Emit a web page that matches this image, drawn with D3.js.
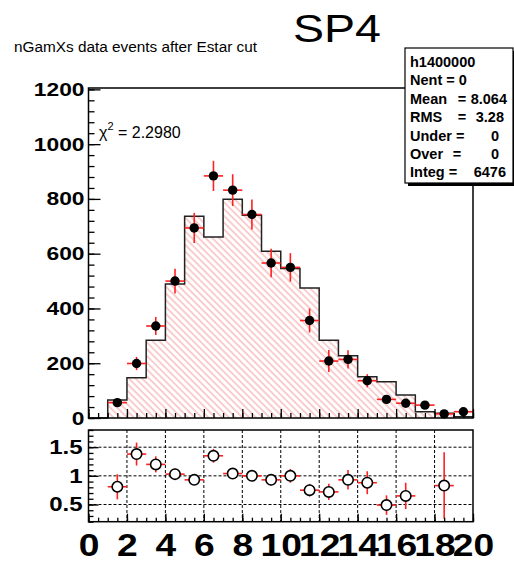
<!DOCTYPE html>
<html>
<head>
<meta charset="utf-8">
<script src="https://cdn.jsdelivr.net/npm/d3@7"></script>
<style>
  body { margin: 0; background: #fff; }
  svg { display: block; font-family: "Liberation Sans", Arial, sans-serif; }
</style>
</head>
<body>
<svg width="514" height="561"></svg>
<script>
// bin low edges (unit bins from 0 to 20)
const binLow   = [0, 1, 2, 3, 4, 5, 6, 7, 8, 9, 10, 11, 12, 13, 14, 15, 16, 17, 18, 19];
// MC histogram (hatched), data points, data errors
const mcCounts = [0, 66, 147, 284, 489, 737, 661, 799, 740, 609, 546, 475, 284, 227, 151, 132, 84, 23, 17, 5];
const dataCounts = [null, 56, 199, 336, 500, 694, 884, 832, 743, 566, 550, 356, 208, 214, 136, 68, 54, 47, 15, 23];
const dataErrors = [null, 15, 24, 33, 45, 55, 55, 58, 55, 52, 52, 44, 40, 33, 24, 15, 12, 10, 8, 8];
// data / MC ratio
const ratioVals = [null, 0.81, 1.38, 1.2, 1.03, 0.93, 1.35, 1.04, 1.0, 0.93, 1.0, 0.75, 0.72, 0.93, 0.88, 0.49, 0.65, null, 0.83, null];
const ratioErrs = [null, 0.22, 0.2, 0.14, 0.1, 0.07, 0.12, 0.08, 0.08, 0.1, 0.12, 0.11, 0.14, 0.17, 0.2, 0.17, 0.23, null, 0.58, null];

const xTicks      = [0, 2, 4, 6, 8, 10, 12, 14, 16, 18, 20];
const yTopTicks   = [0, 200, 400, 600, 800, 1000, 1200];
const yRatioTicks = [0.5, 1, 1.5];
const ratioLabels = ["0.5", "1", "1.5"];

const statsRows = [
  {name: "h1400000"},
  {name: "Nent = 0"},
  {name: "Mean", eq: "=", eqX: 462, value: "8.064", valX: 507},
  {name: "RMS", eq: "=", eqX: 462, value: "3.28", valX: 504},
  {name: "Under =", value: "0", valX: 499},
  {name: "Over", eq: "=", eqX: 457, value: "0", valX: 499},
  {name: "Integ =", value: "6476", valX: 506}
];

const stretch = 1.2;
const svg = d3.select("svg");

const x      = d3.scaleLinear().domain([0, 20]).range([88.5, 473]);
const yTop   = d3.scaleLinear().domain([0, 1205]).range([418, 88]);
const yRatio = d3.scaleLinear().domain([0.2, 1.8]).range([521.7, 430]);

// hatch pattern
svg.append("defs").append("pattern")
    .attr("id", "hatch")
    .attr("patternUnits", "userSpaceOnUse")
    .attr("width", 4.8).attr("height", 4.8)
    .attr("patternTransform", "rotate(-45)")
  .append("line")
    .attr("x1", 1).attr("y1", 0).attr("x2", 1).attr("y2", 4.8)
    .attr("stroke", "#f7adad").attr("stroke-width", 1.2);

// titles
svg.append("text")
    .attr("x", 14).attr("y", 52)
    .attr("textLength", 243).attr("lengthAdjust", "spacingAndGlyphs")
    .style("font-size", "14px")
    .text("nGamXs data events after Estar cut");

svg.append("text")
    .attr("x", 293).attr("y", 42)
    .attr("textLength", 88).attr("lengthAdjust", "spacingAndGlyphs")
    .style("font-size", "39px")
    .text("SP4");

// ---- top panel ----
const steps = binLow.map((b, i) => ({x: b, v: mcCounts[i]}));
steps.push({x: 20, v: mcCounts[mcCounts.length - 1]});

svg.append("path")
    .datum(steps)
    .attr("fill", "url(#hatch)")
    .attr("d", d3.area().x(d => x(d.x)).y0(yTop(0)).y1(d => yTop(d.v)).curve(d3.curveStepAfter));

svg.append("path")
    .datum(steps)
    .attr("fill", "none")
    .attr("stroke", "#222")
    .attr("stroke-width", 1.5)
    .attr("d", d3.line().x(d => x(d.x)).y(d => yTop(d.v)).curve(d3.curveStepAfter));

const pts = binLow.map((b, i) => ({lo: b, v: dataCounts[i], e: dataErrors[i]})).filter(d => d.v != null);

const errG = svg.append("g").attr("stroke", "#ff2020").attr("stroke-width", 1.6);
errG.selectAll(".hbar").data(pts).join("line")
    .attr("x1", d => x(d.lo)).attr("x2", d => x(d.lo + 1))
    .attr("y1", d => yTop(d.v)).attr("y2", d => yTop(d.v));
errG.selectAll(".vbar").data(pts).join("line")
    .attr("x1", d => x(d.lo + 0.5)).attr("x2", d => x(d.lo + 0.5))
    .attr("y1", d => yTop(d.v - d.e)).attr("y2", d => yTop(d.v + d.e));

svg.append("g").selectAll("circle").data(pts).join("circle")
    .attr("cx", d => x(d.lo + 0.5)).attr("cy", d => yTop(d.v))
    .attr("r", 4.7).attr("fill", "#000");

function styleAxis(g, fontSize) {
  g.select(".domain").remove();
  g.selectAll(".tick line").attr("stroke", "#000").attr("stroke-width", 1.3);
  g.selectAll(".tick text")
      .attr("fill", "#000")
      .style("font-size", fontSize + "px")
      .style("font-weight", "bold");
}

// top y axis
svg.append("g")
    .attr("transform", `translate(${x(0)},0)`)
    .call(d3.axisLeft(yTop).tickValues(d3.range(0, 1201, 40)).tickSize(-6).tickFormat(""))
    .call(g => styleAxis(g, 10));
svg.append("g")
    .attr("transform", `translate(${x(0)},0)`)
    .call(d3.axisLeft(yTop).tickValues(yTopTicks).tickSize(-12).tickPadding(4).tickFormat(d3.format("d")))
    .call(g => styleAxis(g, 19))
    .call(g => g.selectAll(".tick text")
        .attr("transform", `scale(${stretch},1)`)
        .attr("x", -4 / stretch));

// top x axis (ticks only)
svg.append("g")
    .attr("transform", `translate(0,${yTop(0)})`)
    .call(d3.axisBottom(x).tickValues(d3.range(0, 20.01, 0.5)).tickSize(-5).tickFormat(""))
    .call(g => styleAxis(g, 10));
svg.append("g")
    .attr("transform", `translate(0,${yTop(0)})`)
    .call(d3.axisBottom(x).tickValues(xTicks).tickSize(-9).tickFormat(""))
    .call(g => styleAxis(g, 10));

svg.append("rect")
    .attr("x", x(0)).attr("y", yTop.range()[1])
    .attr("width", x(20) - x(0)).attr("height", yTop(0) - yTop.range()[1])
    .attr("fill", "none").attr("stroke", "#000").attr("stroke-width", 1.5);

// chi2 label
const chi = svg.append("text").attr("x", 99).attr("y", 138).style("font-size", "16px");
chi.append("tspan").text("χ");
chi.append("tspan").attr("dy", -8).style("font-size", "11px").text("2");
chi.append("tspan").attr("dy", 8).text(" = 2.2980");

// stats box
const box = {x: 405, y: 48, w: 108, h: 135};
svg.append("rect").attr("x", box.x + 3).attr("y", box.y + 3).attr("width", box.w).attr("height", box.h).attr("fill", "#000");
svg.append("rect").attr("x", box.x).attr("y", box.y).attr("width", box.w).attr("height", box.h)
    .attr("fill", "#fff").attr("stroke", "#000").attr("stroke-width", 1.2);
const rowG = svg.append("g").style("font-size", "14.5px").style("font-weight", "bold");
statsRows.forEach((r, i) => {
  const yy = box.y + 19 + i * 18.4;
  rowG.append("text").attr("x", box.x + 5).attr("y", yy).text(r.name);
  if (r.eq) rowG.append("text").attr("x", r.eqX).attr("y", yy).attr("text-anchor", "middle").text(r.eq);
  if (r.value) rowG.append("text").attr("x", r.valX).attr("y", yy).attr("text-anchor", "end").text(r.value);
});

// ---- ratio panel ----
const gridG = svg.append("g")
    .attr("stroke", "#000").attr("stroke-width", 1).attr("stroke-dasharray", "3,2");
gridG.selectAll(".gx").data(xTicks.slice(1, -1)).join("line")
    .attr("x1", d => x(d)).attr("x2", d => x(d))
    .attr("y1", yRatio.range()[1]).attr("y2", yRatio.range()[0]);
gridG.selectAll(".gy").data(yRatioTicks).join("line")
    .attr("x1", x(0)).attr("x2", x(20))
    .attr("y1", d => yRatio(d)).attr("y2", d => yRatio(d));

const rpts = binLow.map((b, i) => ({lo: b, v: ratioVals[i], e: ratioErrs[i]})).filter(d => d.v != null);
const rErr = svg.append("g").attr("stroke", "#ff2020").attr("stroke-width", 1.6);
rErr.selectAll(".hbar").data(rpts).join("line")
    .attr("x1", d => x(d.lo)).attr("x2", d => x(d.lo + 1))
    .attr("y1", d => yRatio(d.v)).attr("y2", d => yRatio(d.v));
rErr.selectAll(".vbar").data(rpts).join("line")
    .attr("x1", d => x(d.lo + 0.5)).attr("x2", d => x(d.lo + 0.5))
    .attr("y1", d => yRatio(d.v - d.e)).attr("y2", d => yRatio(d.v + d.e));
svg.append("g").selectAll("circle").data(rpts).join("circle")
    .attr("cx", d => x(d.lo + 0.5)).attr("cy", d => yRatio(d.v))
    .attr("r", 5.2).attr("fill", "#fff").attr("stroke", "#000").attr("stroke-width", 1.6);

svg.append("g")
    .attr("transform", `translate(${x(0)},0)`)
    .call(d3.axisLeft(yRatio).tickValues(d3.range(0.2, 1.81, 0.1)).tickSize(-5).tickFormat(""))
    .call(g => styleAxis(g, 10));
svg.append("g")
    .attr("transform", `translate(${x(0)},0)`)
    .call(d3.axisLeft(yRatio).tickValues(yRatioTicks).tickSize(-10).tickPadding(6)
        .tickFormat((d, i) => ratioLabels[i]))
    .call(g => styleAxis(g, 20))
    .call(g => g.selectAll(".tick text")
        .attr("transform", `scale(${stretch},1)`)
        .attr("x", -6 / stretch));

svg.append("g")
    .attr("transform", `translate(0,${yRatio.range()[0]})`)
    .call(d3.axisBottom(x).tickValues(d3.range(0, 20.01, 0.5)).tickSize(-4).tickFormat(""))
    .call(g => styleAxis(g, 10));
svg.append("g")
    .attr("transform", `translate(0,${yRatio.range()[0]})`)
    .call(d3.axisBottom(x).tickValues(xTicks).tickSize(-8).tickPadding(12))
    .call(g => styleAxis(g, 31))
    .call(g => g.selectAll(".tick text")
        .attr("transform", `scale(${stretch},1)`)
        .attr("dy", 0)
        .attr("y", 556 - yRatio.range()[0]));

svg.append("rect")
    .attr("x", x(0)).attr("y", yRatio.range()[1])
    .attr("width", x(20) - x(0)).attr("height", yRatio.range()[0] - yRatio.range()[1])
    .attr("fill", "none").attr("stroke", "#000").attr("stroke-width", 1.5);
</script>
</body>
</html>
